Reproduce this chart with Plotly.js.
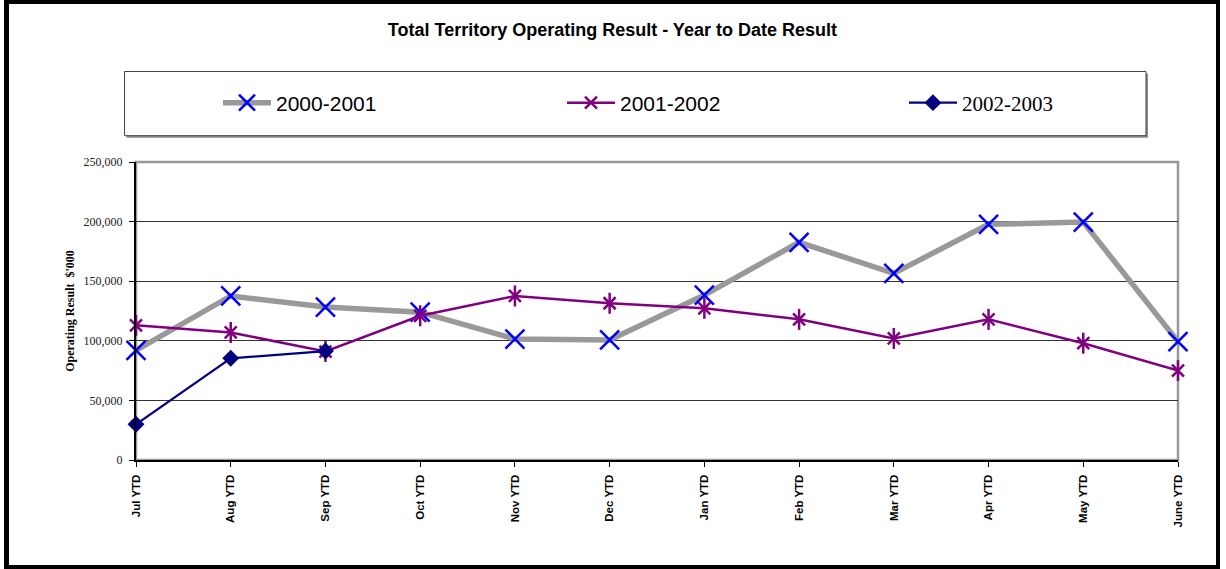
<!DOCTYPE html>
<html>
<head>
<meta charset="utf-8">
<script src="https://cdn.plot.ly/plotly-3.0.1.min.js"></script>
<style>
  html, body { margin: 0; padding: 0; background: #ffffff; }
  #wrap { position: relative; width: 1226px; height: 569px; }
  #chart { position: absolute; left: 0; top: 0; width: 1226px; height: 569px; }
  #frame { position: absolute; left: 4px; top: 0px; width: 1216px; height: 569px;
           box-sizing: border-box; border: 4px solid #000; border-left-width: 5px;
           pointer-events: none; }
</style>
</head>
<body>
<div id="wrap">
  <div id="chart"></div>
  <div id="frame"></div>
</div>
<script>
// ---- data ----
var months = ['Jul YTD', 'Aug YTD', 'Sep YTD', 'Oct YTD', 'Nov YTD', 'Dec YTD',
              'Jan YTD', 'Feb YTD', 'Mar YTD', 'Apr YTD', 'May YTD', 'June YTD'];
var months2002 = ['Jul YTD', 'Aug YTD', 'Sep YTD'];
var result2000_2001 = [92000, 137600, 128300, 124000, 101500, 100700, 138400, 182600, 156600, 197700, 199600, 99300];
var result2001_2002 = [113000, 107000, 91000, 121000, 137600, 131500, 127300, 118000, 102000, 118000, 98000, 75000];
var result2002_2003 = [30000, 85300, 91400];
var seriesNames = ['2000-2001', '2001-2002', '2002-2003'];
var yTicks = [0, 50000, 100000, 150000, 200000, 250000];

var ARIAL = 'Arial, "Liberation Sans", sans-serif';
var TIMES = '"Liberation Serif", "Times New Roman", serif';

var traces = [
  {
    x: months, y: result2000_2001, name: seriesNames[0], type: 'scatter', mode: 'lines+markers',
    legend: 'legend', cliponaxis: false,
    line: { color: '#999999', width: 5.5 },
    marker: { symbol: 'x-thin-open', size: 19, color: '#0000ff', line: { color: '#0000ff', width: 2.5 } }
  },
  {
    x: months, y: result2001_2002, name: seriesNames[1], type: 'scatter', mode: 'lines+markers',
    legend: 'legend2', cliponaxis: false,
    line: { color: '#800080', width: 2.5 },
    marker: { symbol: 'x-thin-open', size: 12, color: '#800080', line: { color: '#800080', width: 2.5 } }
  },
  {
    x: months, y: result2001_2002, name: seriesNames[1], type: 'scatter', mode: 'markers',
    showlegend: false, cliponaxis: false, hoverinfo: 'skip',
    marker: { symbol: 'line-ns-open', size: 15, color: '#800080', line: { color: '#800080', width: 2.5 } }
  },
  {
    x: months2002, y: result2002_2003,
    name: '<span style="font-family:\'Liberation Serif\', \'Times New Roman\', serif">' + seriesNames[2] + '</span>',
    type: 'scatter', mode: 'lines+markers',
    legend: 'legend3', cliponaxis: false,
    line: { color: '#000080', width: 2.2 },
    marker: { symbol: 'diamond', size: 13, color: '#000080' }
  }
];

// legend box geometry (paper coords relative to plot area)
var bx0 = -0.011, bx1 = 0.9693, by0 = 1.0883, by1 = 1.3037;
var sx = 2 / 1042, sy = 2 / 298;

var layout = {
  width: 1226, height: 569,
  margin: { l: 136, r: 48, t: 162, b: 109, pad: 0 },
  paper_bgcolor: '#ffffff', plot_bgcolor: '#ffffff',
  font: { family: ARIAL, color: '#000' },
  title: {
    text: 'Total Territory Operating Result - Year to Date Result',
    font: { family: ARIAL, size: 18, weight: 'bold', color: '#000' },
    x: 0.4995, xref: 'container', xanchor: 'center',
    y: 1 - 30 / 569, yref: 'container', yanchor: 'middle'
  },
  xaxis: {
    type: 'category', categoryorder: 'array', categoryarray: months,
    range: [0, months.length - 1], autorange: false, fixedrange: true,
    showgrid: false, zeroline: false,
    showline: true, linecolor: '#000', linewidth: 2,
    ticks: 'outside', ticklen: 5, tickwidth: 1, tickcolor: '#000',
    tickangle: -90, ticklabelstandoff: 3,
    tickfont: { family: ARIAL, size: 11.5, weight: 'bold', color: '#000' }
  },
  yaxis: {
    range: [0, 250000], autorange: false, fixedrange: true,
    tickvals: yTicks, tickformat: ',d',
    showgrid: true, gridcolor: '#333333', gridwidth: 1,
    zeroline: false,
    showline: true, linecolor: '#000', linewidth: 2,
    ticks: 'outside', ticklen: 5, tickwidth: 1, tickcolor: '#000',
    ticklabelstandoff: 4,
    tickfont: { family: TIMES, size: 12, color: '#222' },
    title: {
      text: "Operating Result  $'000", standoff: 6,
      font: { family: TIMES, size: 12, weight: 'bold', color: '#000' }
    }
  },
  shapes: [
    // plot-area border (gray top & right)
    { type: 'rect', xref: 'paper', yref: 'paper', x0: 0, x1: 1, y0: 0, y1: 1,
      line: { color: '#999999', width: 2.5 }, fillcolor: 'rgba(0,0,0,0)', layer: 'between' },
    // legend box shadow
    { type: 'rect', xref: 'paper', yref: 'paper', x0: bx0 + sx, x1: bx1 + sx, y0: by0 - sy, y1: by1 - sy,
      line: { width: 0 }, fillcolor: '#8c8c8c', layer: 'above' },
    // legend box
    { type: 'rect', xref: 'paper', yref: 'paper', x0: bx0, x1: bx1, y0: by0, y1: by1,
      line: { color: '#444444', width: 1 }, fillcolor: '#ffffff', layer: 'above' }
  ],
  legend: {
    orientation: 'h', x: 0.0787, y: 1.198, xanchor: 'left', yanchor: 'middle',
    bgcolor: 'rgba(0,0,0,0)', borderwidth: 0, itemwidth: 48,
    font: { family: ARIAL, size: 21, color: '#000' }
  },
  legend2: {
    orientation: 'h', x: 0.4088, y: 1.198, xanchor: 'left', yanchor: 'middle',
    bgcolor: 'rgba(0,0,0,0)', borderwidth: 0, itemwidth: 48,
    font: { family: ARIAL, size: 21, color: '#000' }
  },
  legend3: {
    orientation: 'h', x: 0.737, y: 1.198, xanchor: 'left', yanchor: 'middle',
    bgcolor: 'rgba(0,0,0,0)', borderwidth: 0, itemwidth: 48,
    font: { family: TIMES, size: 21, color: '#000' }
  },
  showlegend: true
};

Plotly.newPlot('chart', traces, layout, { displayModeBar: false, staticPlot: true });
</script>
</body>
</html>
